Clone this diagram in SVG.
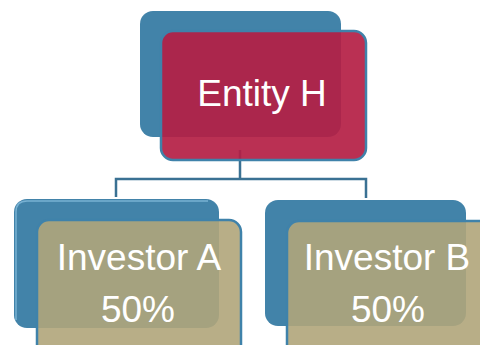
<svg xmlns="http://www.w3.org/2000/svg" width="480" height="345" viewBox="0 0 480 345">
<defs>
<style>
.back{fill:#4283A9;}
.red{fill:#B41E44;fill-opacity:0.92;stroke:#3F82AA;stroke-width:2.5;}
.tan{fill:#B0A57A;fill-opacity:0.9;stroke:#3F82AA;stroke-width:2.5;}
.lbl{font-family:"Liberation Sans",Arial,sans-serif;font-size:37px;fill:#FFFFFF;text-anchor:middle;}
.conn{fill:none;stroke:#3A7193;stroke-width:2.5;}
</style>
</defs>
<rect width="480" height="345" fill="#FFFFFF"/>
<g id="connectors">
<path class="conn" d="M240,150 V179 M116,197 V179 H366 V198"/>
</g>
<g id="node-entity-h">
<rect class="back" x="140" y="11" width="201" height="126" rx="13"/>
<rect class="red" x="161" y="31" width="205" height="129" rx="12"/>
<text class="lbl" x="262" y="106">Entity H</text>
</g>
<g id="node-investor-a">
<rect class="back" x="14" y="199" width="205" height="129" rx="13"/>
<path d="M16,320 V212 Q16,201 27,201 H208" fill="none" stroke="#8EC4E4" stroke-width="1.5" opacity="0.7"/>
<rect class="tan" x="37" y="220" width="204" height="140" rx="12"/>
<text class="lbl" x="139" y="270">Investor A</text>
<text class="lbl" x="138" y="322">50%</text>
</g>
<g id="node-investor-b">
<rect class="back" x="265" y="200" width="201" height="126" rx="13"/>
<rect class="tan" x="287" y="221" width="210" height="140" rx="12"/>
<text class="lbl" x="387" y="270">Investor B</text>
<text class="lbl" x="388" y="322">50%</text>
</g>
</svg>
